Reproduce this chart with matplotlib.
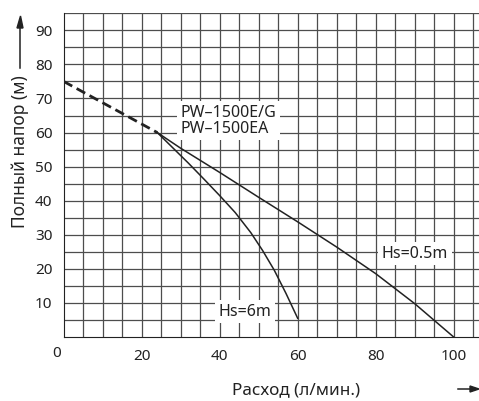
import matplotlib.pyplot as plt
import numpy as np

plt.rcParams["font.family"] = ["Noto Sans", "DejaVu Sans"]

# values
dash_x = [0, 24]
dash_y = [75, 60]

hs05_x = [24, 30, 40, 50, 60, 70, 80, 90, 100]
hs05_y = [60, 55.4, 48.3, 41, 33.8, 26.4, 18.6, 9.8, 0]

hs6_x = [24, 28, 32, 36, 40, 44, 48, 51, 54, 57, 60]
hs6_y = [60, 55.5, 51, 46.3, 41.5, 36.5, 30.6, 25.4, 19.6, 12.8, 5.5]

x_ticks = [20, 40, 60, 80, 100]
y_ticks = [10, 20, 30, 40, 50, 60, 70, 80, 90]

fig = plt.figure(figsize=(4.79, 4.01), dpi=100)
ax = fig.add_axes([63.7 / 479, 64 / 401, 1 - 63.7 / 479, (337 - 13.3) / 401])

ax.set_xlim(0, 106.5)
ax.set_ylim(0, 95)

# grid every 5 units
for gx in np.arange(5, 107, 5):
    ax.axvline(gx, color="#4d4d4d", lw=0.9, zorder=1)
for gy in np.arange(5, 96, 5):
    ax.axhline(gy, color="#4d4d4d", lw=0.9, zorder=1)

for s in ["top", "right"]:
    ax.spines[s].set_visible(False)
ax.spines["left"].set_color("#222222")
ax.spines["bottom"].set_color("#222222")

ax.plot(dash_x, dash_y, color="#222222", lw=2, ls=(0, (3.5, 1.8)), zorder=3)
ax.plot(hs05_x, hs05_y, color="#222222", lw=1.1, zorder=3)
ax.plot(hs6_x, hs6_y, color="#222222", lw=1.1, zorder=3)

ax.set_xticks(x_ticks)
ax.set_yticks(y_ticks)
ax.tick_params(length=0, labelsize=11, colors="#222222")
ax.tick_params(axis="x", pad=9)
ax.tick_params(axis="y", pad=8)
ax.text(-1.9, -4.8, "0", ha="center", va="center", fontsize=11, color="#222222")

box = dict(facecolor="white", edgecolor="none", pad=2.5)
ax.text(29.9, 63.5, "PW\u20131500E/G\nPW\u20131500EA", ha="left", va="center",
        fontsize=11.5, linespacing=1.0, color="#222222", bbox=box, zorder=4)
ax.text(90.1, 24.5, "Hs=0.5m", ha="center", va="center",
        fontsize=11.5, color="#222222", bbox=box, zorder=4)
ax.text(46.4, 7.4, "Hs=6m", ha="center", va="center",
        fontsize=11.5, color="#222222", bbox=box, zorder=4)

# axis labels with arrows
fig.text(20 / 479, 1 - 152 / 401, "Полный напор (м)", rotation=90,
         ha="center", va="center", fontsize=12.5, color="#222222")
fig.add_artist(plt.Line2D([20 / 479, 20 / 479], [1 - 68 / 401, 1 - 25 / 401],
                          color="#222222", lw=1.1))
fig.add_artist(plt.Polygon([[17 / 479, 1 - 28 / 401], [23 / 479, 1 - 28 / 401],
                            [20.5 / 479, 1 - 16 / 401]], color="#222222"))

fig.text(296 / 479, 1 - 390 / 401, "Расход (л/мин.)",
         ha="center", va="center", fontsize=12.3, color="#222222")
fig.add_artist(plt.Line2D([458 / 479, 472 / 479], [1 - 389 / 401, 1 - 389 / 401],
                          color="#222222", lw=1.1))
fig.add_artist(plt.Polygon([[470 / 479, 1 - 386 / 401], [470 / 479, 1 - 392 / 401],
                            [479 / 479, 1 - 389 / 401]], color="#222222"))

fig.savefig("out.png", dpi=100)
